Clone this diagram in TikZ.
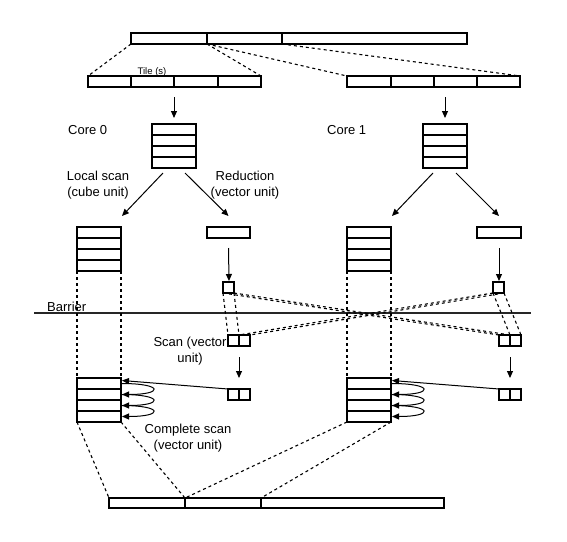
\documentclass[tikz,border=0pt]{standalone}
\usepackage{fontspec}
\setmainfont{Liberation Sans}
\usetikzlibrary{arrows.meta,calc}
\begin{document}
\begin{tikzpicture}[x=1pt,y=-1pt,
  cell/.style={draw, line width=1.1pt, inner sep=0pt, outer sep=0pt, anchor=north west, minimum height=11pt, minimum width=#1},
  arr/.style={-{Triangle[length=7pt,width=6pt]}, line width=1pt},
  dsh/.style={dash pattern=on 3pt off 3pt, line width=1.1pt},
  lbl/.style={font=\fontsize{13}{16}\selectfont, align=center, inner sep=0pt}]
\useasboundingbox (0,0) rectangle (567,541);
% top bar
\node[cell=76pt] (tb1) at (131,33) {};
\node[cell=75pt] (tb2) at (207,33) {};
\node[cell=185pt] (tb3) at (282,33) {};
% tiles
\node[cell=43pt] (tl1) at (88,76) {};
\node[cell=43pt] (tl2) at (131,76) {};
\node[cell=44pt] (tl3) at (174,76) {};
\node[cell=43pt] (tl4) at (218,76) {};
\node[cell=44pt] (tr1) at (347,76) {};
\node[cell=43pt] (tr2) at (391,76) {};
\node[cell=43pt] (tr3) at (434,76) {};
\node[cell=43pt] (tr4) at (477,76) {};
\node[font=\fontsize{9.5}{11}\selectfont, anchor=base, inner sep=0pt] (tiles) at (152,74) {Tile (s)};
\draw[dsh] (tb1.south west) -- (tl1.north west);
\draw[dsh] (tb2.south west) -- (tl4.north east);
\draw[dsh] (tb2.south west) -- (tr1.north west);
\draw[dsh] (tb3.south west) -- (tr4.north east);
% stacks
\foreach \i in {1,...,4} {
  \node[cell=44pt] (a0\i) at (152,{124+11*(\i-1)}) {};
  \node[cell=44pt] (a1\i) at (423,{124+11*(\i-1)}) {};
  \node[cell=44pt] (o0\i) at (77,{227+11*(\i-1)}) {};
  \node[cell=44pt] (o1\i) at (347,{227+11*(\i-1)}) {};
  \node[cell=44pt] (b0\i) at (77,{378+11*(\i-1)}) {};
  \node[cell=44pt] (b1\i) at (347,{378+11*(\i-1)}) {};
}
\draw[arr] ($(a01.north |- tl2.south)+(0,10)$) -- ([yshift=6pt]a01.north);
\draw[arr] ($(a11.north |- tr3.south)+(0,10)$) -- ([yshift=6pt]a11.north);
\node[lbl, anchor=west] (core0) at (68,130) {Core 0};
\node[lbl, anchor=west] (core1) at (327,130) {Core 1};
\node[lbl] (lscan) at (98,185) {Local scan\\(cube unit)};
\node[lbl] (red) at (245,185) {Reduction\\(vector unit)};
% reduction bars
\node[cell=43pt] (r0) at (207,227) {};
\node[cell=44pt] (r1) at (477,227) {};
% diagonal arrows
\draw[arr] ([xshift=-11pt,yshift=-5pt]a04.south) -- ([xshift=1pt,yshift=11pt]o01.north east);
\draw[arr] ([xshift=11pt,yshift=-5pt]a04.south) -- ([yshift=11pt]r0.north);
\draw[arr] ([xshift=-12pt,yshift=-5pt]a14.south) -- ([xshift=1pt,yshift=11pt]o11.north east);
\draw[arr] ([xshift=11pt,yshift=-5pt]a14.south) -- ([yshift=11pt]r1.north);
% small squares
\node[cell=11pt] (sq0) at (223,282) {};
\node[cell=11pt] (sq1) at (493,282) {};
\draw[arr] ([yshift=-10pt]r0.south) -- ([xshift=0.5pt,yshift=1pt]sq0.north);
\draw[arr] ([yshift=-10pt]r1.south) -- ([xshift=0.5pt,yshift=1pt]sq1.north);
% barrier
\coordinate (bl) at (34,313);
\coordinate (br) at (531,313);
\draw[line width=1.1pt, black!85] (bl) -- (br);
\node[lbl, anchor=base west] (barrier) at (47,311) {Barrier};
% scan boxes
\node[cell=11pt] (sc0a) at (228,335) {};
\node[cell=11pt] (sc0b) at (239,335) {};
\node[cell=11pt] (sc1a) at (499,335) {};
\node[cell=11pt] (sc1b) at (510,335) {};
\node[lbl] (scanlbl) at (190,351) {Scan (vector\\unit)};
\draw[dsh] (sq0.south west) -- (sc0a.north west);
\draw[dsh] (sq0.south east) -- (sc0a.north east);
\draw[dsh] (sq0.south west) -- (sc1a.north west);
\draw[dsh] (sq0.south east) -- (sc1a.north east);
\draw[dsh] (sq1.south west) -- (sc1b.north west);
\draw[dsh] (sq1.south east) -- (sc1b.north east);
\draw[dsh] (sq1.south west) -- (sc0b.north west);
\draw[dsh] (sq1.south east) -- (sc0b.north east);
% bottom two-boxes
\node[cell=11pt] (t0a) at (228,389) {};
\node[cell=11pt] (t0b) at (239,389) {};
\node[cell=11pt] (t1a) at (499,389) {};
\node[cell=11pt] (t1b) at (510,389) {};
\draw[arr] ([yshift=-11pt]sc0a.south east) -- ([yshift=11pt]t0a.north east);
\draw[arr] ([yshift=-11pt]sc1a.south east) -- ([yshift=11pt]t1a.north east);
% vertical dashed
\draw[dsh] (o04.south west) -- (b01.north west);
\draw[dsh] (o04.south east) -- (b01.north east);
\draw[dsh] (o14.south west) -- (b11.north west);
\draw[dsh] (o14.south east) -- (b11.north east);
% complete scan arrows
\draw[arr] (t0a.north west) -- ([xshift=1pt,yshift=-2.5pt]b01.north east);
\draw[arr] (t1a.north west) -- ([xshift=1pt,yshift=-2.5pt]b11.north east);
\foreach \c in {0,1} {
  \draw[arr] ([xshift=0.5pt]b\c1.east) .. controls +(42,0) and +(42,0) .. ([xshift=1pt]b\c2.east);
  \draw[arr] ([xshift=0.5pt]b\c2.east) .. controls +(42,0) and +(42,0) .. ([xshift=1pt]b\c3.east);
  \draw[arr] ([xshift=0.5pt]b\c3.east) .. controls +(42,0) and +(42,0) .. ([xshift=1pt]b\c4.east);
}
\node[lbl] (cscan) at (188,438) {Complete scan\\(vector unit)};
% bottom bar
\node[cell=76pt, minimum height=10pt] (bb1) at (109,498) {};
\node[cell=76pt, minimum height=10pt] (bb2) at (185,498) {};
\node[cell=183pt, minimum height=10pt] (bb3) at (261,498) {};
\draw[dsh] (b04.south west) -- (bb1.north west);
\draw[dsh] (b04.south east) -- (bb2.north west);
\draw[dsh] (b14.south west) -- (bb2.north west);
\draw[dsh] (b14.south east) -- (bb3.north west);
\end{tikzpicture}
\end{document}
